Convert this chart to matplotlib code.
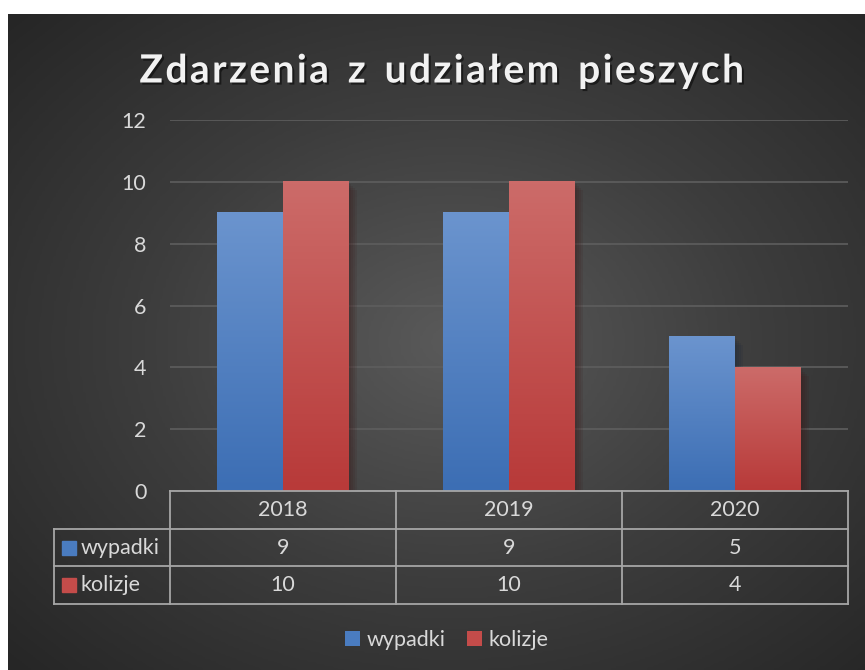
import numpy as np
import matplotlib.pyplot as plt
from matplotlib.patches import Patch
from matplotlib import patheffects as pe
from matplotlib.colors import LinearSegmentedColormap

plt.rcParams['font.family'] = ['Lato', 'DejaVu Sans']

# dane
lata = ['2018', '2019', '2020']
serie = ['wypadki', 'kolizje']
wypadki = [9, 9, 5]
kolizje = [10, 10, 4]
wartosci = [wypadki, kolizje]

kolor_tekst = '#d9d9d9'
kolory_gora = ['#6b94ce', '#cc6b69']
kolory_dol = ['#3c6eb4', '#b83a39']
kolory_srodek = ['#4a7cc0', '#c44c4a']
fs = 15.5

W, H = 865, 670
fig = plt.figure(figsize=(W / 100, H / 100), dpi=100)

# tlo z gradientem radialnym
bg = fig.add_axes([0, 0, 1, 1])
bg.set_xlim(0, W)
bg.set_ylim(H, 0)
bg.axis('off')
yy, xx = np.mgrid[0:1:300j, 0:1:300j]
r = np.sqrt(((xx - 0.52) / 0.75) ** 2 + ((yy - 0.5) / 0.75) ** 2)
r = np.clip(r / r.max(), 0, 1)
cmap_bg = LinearSegmentedColormap.from_list('bg', ['#5a5a5a', '#3d3d3d', '#262626'])
bg.imshow(r, cmap=cmap_bg, extent=[8, W, H, 14], aspect='auto', vmin=0, vmax=1)

# tytul z rozstrzelonymi literami
tytul = 'Zdarzenia z udziałem pieszych'
tytul_rozstrz = '  '.join('\u200a'.join(slowo) for slowo in tytul.split(' '))
fig.text(441 / W, 1 - 71 / H, tytul_rozstrz,
         ha='center', va='center', fontsize=28, fontweight='bold', color='#f2f2f2',
         path_effects=[pe.withSimplePatchShadow(offset=(1.5, -1.5), shadow_rgbFace='black', alpha=0.5)])

# wykres slupkowy
ax = fig.add_axes([170 / W, 1 - 491 / H, 678 / W, 371 / H])
ax.patch.set_visible(False)
ax.set_xlim(-0.5, 2.5)
ax.set_ylim(0, 12)
ax.set_yticks(range(0, 13, 2))
ax.set_xticks([])
for s in ax.spines.values():
    s.set_visible(False)
ax.tick_params(axis='y', length=0, pad=17, labelsize=fs, labelcolor=kolor_tekst)
ax.grid(axis='y', color='#5e5e5e', linewidth=1.2)
ax.set_axisbelow(True)

szer = 0.29
x = np.arange(len(lata))
cien = [pe.SimplePatchShadow(offset=(o, -o), alpha=0.12) for o in (1.5, 3, 4.5, 6)]
for i, vals in enumerate(wartosci):
    pos = x + (i - 1) * szer
    cm = LinearSegmentedColormap.from_list('g%d' % i, [kolory_dol[i], kolory_gora[i]])
    grad = np.linspace(0, 1, 100).reshape(-1, 1)
    for xp, v in zip(pos, vals):
        ax.bar(xp, v, width=szer, align='edge', color=kolory_srodek[i], zorder=2,
               path_effects=cien + [pe.Normal()])
        ax.imshow(grad, cmap=cm, origin='lower', extent=[xp, xp + szer, 0, v],
                  aspect='auto', zorder=3)
ax.set_xlim(-0.5, 2.5)
ax.set_ylim(0, 12)

# tabela danych
tab = fig.add_axes([54 / W, 1 - 604 / H, (848 - 54) / W, 113 / H])
x_lewo = -0.5 - 116 / 226
tab.set_xlim(x_lewo, 2.5)
tab.set_ylim(3, 0)
tab.axis('off')
lc = '#a6a6a6'
lw = 1.3
tab.plot([-0.5, 2.5], [0, 0], color=lc, lw=lw, clip_on=False)
for yl in [1, 2, 3]:
    tab.plot([x_lewo, 2.5], [yl, yl], color=lc, lw=lw, clip_on=False)
tab.plot([x_lewo, x_lewo], [1, 3], color=lc, lw=lw, clip_on=False)
for xl in [-0.5, 0.5, 1.5, 2.5]:
    tab.plot([xl, xl], [0, 3], color=lc, lw=lw, clip_on=False)

for j, rok in enumerate(lata):
    tab.text(j, 0.5, rok, ha='center', va='center', fontsize=fs, color=kolor_tekst)
for i, nazwa in enumerate(serie):
    tab.plot(x_lewo + 15 / 226, i + 1.5, marker='s', markersize=10.5, color=kolory_srodek[i], clip_on=False)
    tab.text(x_lewo + 27 / 226, i + 1.5, nazwa, ha='left', va='center', fontsize=fs, color=kolor_tekst)
    for j, v in enumerate(wartosci[i]):
        tab.text(j, i + 1.5, str(v), ha='center', va='center', fontsize=fs, color=kolor_tekst)

# legenda
uchwyty = [Patch(facecolor=kolory_srodek[i], label=serie[i]) for i in range(2)]
fig.legend(handles=uchwyty, loc='center', bbox_to_anchor=(447 / W, 1 - 640 / H), ncol=2,
           frameon=False, fontsize=fs, labelcolor=kolor_tekst, handlelength=0.7,
           handleheight=0.7, handletextpad=0.3, columnspacing=1.0)

fig.savefig('out.png', dpi=100)
